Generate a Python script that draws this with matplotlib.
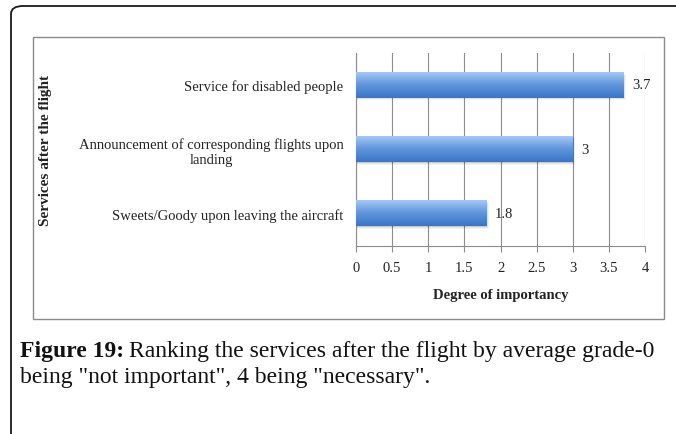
import matplotlib
matplotlib.use("Agg")
import matplotlib.pyplot as plt
import numpy as np
from matplotlib.patches import FancyBboxPatch, Rectangle
from matplotlib.colors import LinearSegmentedColormap

categories = ["Service for disabled people",
              "Announcement of corresponding flights upon\nlanding",
              "Sweets/Goody upon leaving the aircraft"]
values = [3.7, 3.0, 1.8]
value_labels = ["3.7", "3", "1.8"]
xticks = [0, 0.5, 1, 1.5, 2, 2.5, 3, 3.5, 4]
xtick_labels = ["0", "0.5", "1", "1.5", "2", "2.5", "3", "3.5", "4"]
xlabel = "Degree of importancy"
ylabel = "Services after the flight"

SERIF = ["Liberation Serif", "DejaVu Serif"]
plt.rcParams['font.family'] = SERIF

W, H = 676, 435
fig = plt.figure(figsize=(W / 100, H / 100), dpi=100)
fig.patch.set_facecolor("white")

def fx(px):
    return px / W

def fy(py):
    return 1 - py / H

# outer rounded frame (only top and left visible)
outer = FancyBboxPatch((fx(11), fy(700)), fx(900), fy(7) - fy(700),
                       boxstyle="round,pad=0,rounding_size=0.018",
                       transform=fig.transFigure, fill=False,
                       edgecolor="#1a1a1a", linewidth=1.3, clip_on=False)
fig.patches.append(outer)

# inner chart box
inner = Rectangle((fx(33), fy(320)), fx(664) - fx(33), fy(38) - fy(320),
                  transform=fig.transFigure, fill=False,
                  edgecolor="#8a8a8a", linewidth=1.0)
fig.patches.append(inner)

ax_left, ax_right = 356, 645
ax_top, ax_bot = 53.5, 246.5
ax = fig.add_axes([fx(ax_left), fy(ax_bot), fx(ax_right) - fx(ax_left),
                   fy(ax_top) - fy(ax_bot)])

n = len(categories)
ypos = np.arange(n)[::-1]
bar_h = 0.4

cmap = LinearSegmentedColormap.from_list("g", ["#3a76c6", "#5f95dc", "#a3c7f7"])
grad = np.linspace(0, 1, 64).reshape(-1, 1)

FS = 10.5
bars = ax.barh(ypos, values, height=bar_h, color="none", edgecolor="none", zorder=3)
for b, v in zip(bars, values):
    x0, y0 = b.get_x(), b.get_y()
    w, h = b.get_width(), b.get_height()
    for k, a in enumerate([0.10, 0.07, 0.04]):
        sh = Rectangle((x0, y0 - 0.015 * (k + 1)), w + 0.012 * (k + 1), h,
                       facecolor="#000000", alpha=a, edgecolor="none", zorder=2)
        ax.add_patch(sh)
    im = ax.imshow(grad, extent=(x0, x0 + w, y0, y0 + h), origin="lower",
                   aspect="auto", cmap=cmap, zorder=3, interpolation="bilinear")
    im.set_clip_path(b)

for y, v, lab in zip(ypos, values, value_labels):
    ax.text(v + 0.12, y, lab, va="center", ha="left", fontsize=FS,
            color="#222222", family=SERIF)

ax.set_xlim(0, 4)
ax.set_ylim(-0.5, 2.5)
ax.set_xticks(xticks)
ax.set_xticklabels(xtick_labels)
ax.set_yticks(ypos)
ax.set_yticklabels(categories, multialignment="center")
ax.grid(axis="x", color="#8c8c8c", linewidth=0.8, zorder=0)
ax.set_axisbelow(True)
for s in ["top", "right"]:
    ax.spines[s].set_visible(False)
ax.spines["left"].set_color("#8c8c8c")
ax.spines["left"].set_linewidth(0.8)
ax.spines["bottom"].set_color("#8c8c8c")
ax.spines["bottom"].set_linewidth(0.8)
ax.tick_params(axis="x", direction="out", length=4, width=0.8, color="#8c8c8c",
               labelsize=FS, labelcolor="#222222", pad=7)
ax.tick_params(axis="y", length=0, labelsize=FS, labelcolor="#222222", pad=9)

ax.set_xlabel(xlabel, fontsize=FS, fontweight="bold", color="#222222", labelpad=10)

fig.text(fx(46), fy(150), ylabel, rotation=90, ha="center", va="center",
         fontsize=FS + 0.5, fontweight="bold", color="#222222")

# caption
CS = 17
t1 = fig.text(fx(20), fy(352), "Figure 19:", fontsize=CS, fontweight="bold",
              ha="left", va="center", color="#111111")
fig.canvas.draw()
bb = t1.get_window_extent()
fig.text(bb.x1 / W + fx(5), fy(352),
         "Ranking the services after the flight by average grade-0",
         fontsize=CS, ha="left", va="center", color="#111111")
fig.text(fx(20), fy(378), "being \"not important\", 4 being \"necessary\".",
         fontsize=CS, ha="left", va="center", color="#111111")

fig.savefig("out.png", dpi=100, facecolor="white")
